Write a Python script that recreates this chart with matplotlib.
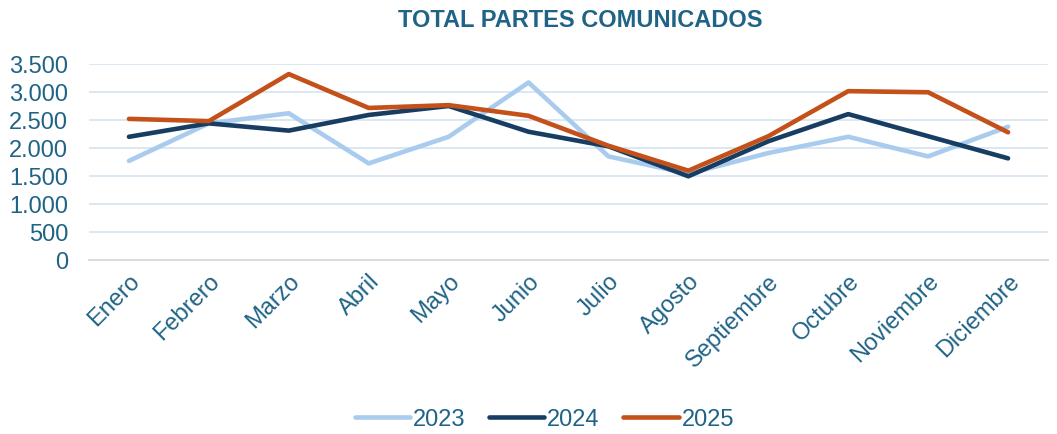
import matplotlib.pyplot as plt
from matplotlib.ticker import FuncFormatter

plt.rcParams['font.family'] = ['Liberation Sans', 'DejaVu Sans']

meses = ['Enero', 'Febrero', 'Marzo', 'Abril', 'Mayo', 'Junio', 'Julio',
         'Agosto', 'Septiembre', 'Octubre', 'Noviembre', 'Diciembre']
v2023 = [1770, 2440, 2620, 1725, 2200, 3170, 1850, 1540, 1910, 2200, 1850, 2380]
v2024 = [2200, 2440, 2310, 2590, 2750, 2290, 2030, 1495, 2120, 2605, 2210, 1815]
v2025 = [2520, 2480, 3320, 2715, 2765, 2575, 2040, 1595, 2210, 3015, 2995, 2280]

txt = '#1F6386'

fig = plt.figure(figsize=(10.57, 4.35), dpi=100)
ax = fig.add_axes([0.0842, 0.40, 0.9073, 0.4506])

x = range(len(meses))
ax.plot(x, v2023, color='#A9CCEE', lw=3.3, label='2023', solid_capstyle='round', zorder=3)
ax.plot(x, v2024, color='#173D63', lw=3.3, label='2024', solid_capstyle='round', zorder=4)
ax.plot(x, v2025, color='#C4501A', lw=3.3, label='2025', solid_capstyle='round', zorder=5)

ax.set_xlim(-0.5, len(meses) - 0.5)
ax.set_ylim(0, 3500)
ax.set_yticks(range(0, 3501, 500))
ax.yaxis.set_major_formatter(FuncFormatter(lambda v, p: f'{int(v):,}'.replace(',', '.')))
ax.set_xticks(list(x))
ax.set_xticklabels(meses, rotation=45, ha='right', rotation_mode='anchor')

ax.grid(axis='y', color='#D9E5F3', lw=1.3, zorder=0)
for s in ['top', 'right', 'left']:
    ax.spines[s].set_visible(False)
ax.spines['bottom'].set_color('#D9D9D9')
ax.spines['bottom'].set_linewidth(1.3)
ax.tick_params(axis='both', length=0, labelsize=17, labelcolor=txt)
ax.tick_params(axis='x', pad=7)
ax.tick_params(axis='y', pad=15)

fig.suptitle('TOTAL PARTES COMUNICADOS', x=0.549, y=0.98, fontsize=17,
             fontweight='bold', color=txt)

leg = fig.legend(loc='lower center', bbox_to_anchor=(0.515, -0.04), ncol=3, frameon=False,
                 fontsize=17, handlelength=2.35, handletextpad=0.12, columnspacing=1.0)
for t in leg.get_texts():
    t.set_color(txt)

fig.savefig('out.png', dpi=100)
